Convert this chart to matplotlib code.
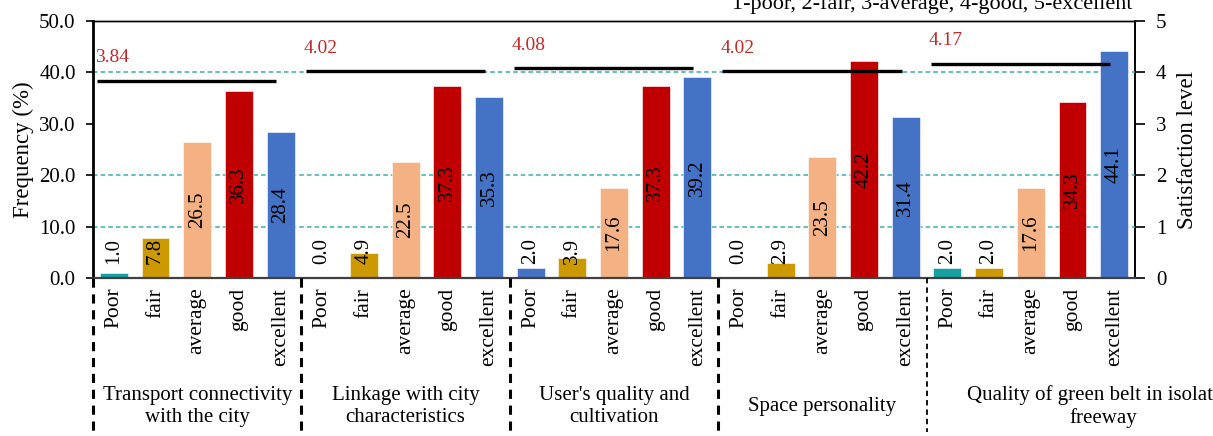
import matplotlib
matplotlib.use("Agg")
import matplotlib.pyplot as plt
import matplotlib.transforms as mtransforms
import numpy as np

plt.rcParams['font.family'] = ['Liberation Serif', 'DejaVu Serif']

# ---- data ----
groups = ["Transport connectivity\nwith the city",
          "Linkage with city\ncharacteristics",
          "User's quality and\ncultivation",
          "Space personality",
          "Quality of green belt in isolating\nfreeway"]
levels = ["Poor", "fair", "average", "good", "excellent"]
freq_transport = [1.0, 7.8, 26.5, 36.3, 28.4]
freq_linkage = [0.0, 4.9, 22.5, 37.3, 35.3]
freq_users = [2.0, 3.9, 17.6, 37.3, 39.2]
freq_space = [0.0, 2.9, 23.5, 42.2, 31.4]
freq_greenbelt = [2.0, 2.0, 17.6, 34.3, 44.1]
mean_scores = [3.84, 4.02, 4.08, 4.02, 4.17]
left_ticks = [0, 10, 20, 30, 40, 50]
right_ticks = [0, 1, 2, 3, 4, 5]
caption = "1-poor, 2-fair, 3-average, 4-good, 5-excellent"

freqs = [freq_transport, freq_linkage, freq_users, freq_space, freq_greenbelt]

# ---- style ----
level_colors = ["#16A0A0", "#CC9900", "#F4B183", "#C00000", "#4472C4"]
grid_color = "#3AAFB0"
mean_color = "#C62828"
n_lv = len(levels)
group_label_shift = [0, 0, 0, 0, 1.75]

fig = plt.figure(figsize=(12.13, 4.36), dpi=100)
ax = fig.add_axes([93/1213, 1-278/436, (1135-93)/1213, (278-21)/436])
ax2 = ax.twinx()

ax.set_zorder(ax2.get_zorder() + 1)
ax.patch.set_visible(False)

x = np.arange(len(groups) * n_lv)
values = [v for g in freqs for v in g]
colors = []
for gi in range(len(groups)):
    for li in range(n_lv):
        c = level_colors[li]
        if gi == 2 and li == 0:
            c = level_colors[4]
        colors.append(c)

# grid lines (left axis)
for gy in [10, 20, 40]:
    ax.axhline(gy, color=grid_color, lw=1.1, ls=(0, (3, 2)), zorder=1)

ax.bar(x, values, width=0.67, color=colors, zorder=2, edgecolor='white', linewidth=0.4)

for xi, v in zip(x, values):
    ax.text(xi, max(v / 2, 5.3), f"{v:.1f}", rotation=90, ha='center', va='center',
            fontsize=15, color='black', zorder=4)

ax.set_xlim(-0.5, len(x) - 0.5)
ax.set_ylim(0, 50)
ax.set_yticks(left_ticks)
ax.set_yticklabels([f"{t:.1f}" for t in left_ticks], fontsize=15)
ax.set_ylabel("Frequency (%)", fontsize=16.5, labelpad=4)
ax.set_xticks(x)
ax.set_xticklabels(levels * len(groups), rotation=90, fontsize=15.5, va='top')
ax.tick_params(axis='x', length=0, pad=7)
ax.tick_params(axis='y', direction='out', length=5, width=1.2, pad=7.5)

ax2.set_ylim(0, 5)
ax2.set_yticks(right_ticks)
ax2.set_yticklabels([str(t) for t in right_ticks], fontsize=15)
ax2.set_ylabel("Satisfaction level", fontsize=16.5, labelpad=8)
ax2.tick_params(axis='y', direction='out', length=7, width=1.2, pad=8)

# mean lines on satisfaction axis (drawn on ax, converted scale)
scale = 50 / 5
for gi, m in enumerate(mean_scores):
    x0 = gi * n_lv - 0.4
    x1 = gi * n_lv + 3.9
    ax.plot([x0, x1], [m * scale, m * scale], color='black', lw=2.4, zorder=3,
            solid_capstyle='butt')
    ax.text(gi * n_lv - 0.45, (m + 0.45) * scale, f"{m:.2f}", color=mean_color,
            fontsize=14, ha='left', va='center', zorder=4)

# spines
for a in (ax, ax2):
    a.spines['top'].set_linewidth(1.0)
ax.spines['left'].set_linewidth(2.0)
ax.spines['bottom'].set_color('#404040')
ax.spines['bottom'].set_linewidth(1.6)
ax2.spines['right'].set_linewidth(1.4)
ax2.spines['left'].set_visible(False)
ax2.spines['bottom'].set_visible(False)
ax.spines['right'].set_visible(False)

# group separators and group labels
trans = mtransforms.blended_transform_factory(ax.transData, ax.transAxes)
sep_widths = [2.2, 2.2, 2.2, 2.2, 1.3]
for gi in range(len(groups)):
    xs = gi * n_lv - 0.5
    ax.plot([xs, xs], [0, -0.6], transform=trans, color='black', lw=sep_widths[gi],
            ls=(0, (3, 2.2)), clip_on=False, zorder=5)
    ax.text(gi * n_lv + (n_lv - 1) / 2 + group_label_shift[gi], -0.5, groups[gi],
            transform=trans, ha='center', va='center', fontsize=15, linespacing=1.2)

fig.text(1133/1213, 1 - 9/436, caption, ha='right', va='baseline', fontsize=16)

fig.savefig("out.png", dpi=100)
